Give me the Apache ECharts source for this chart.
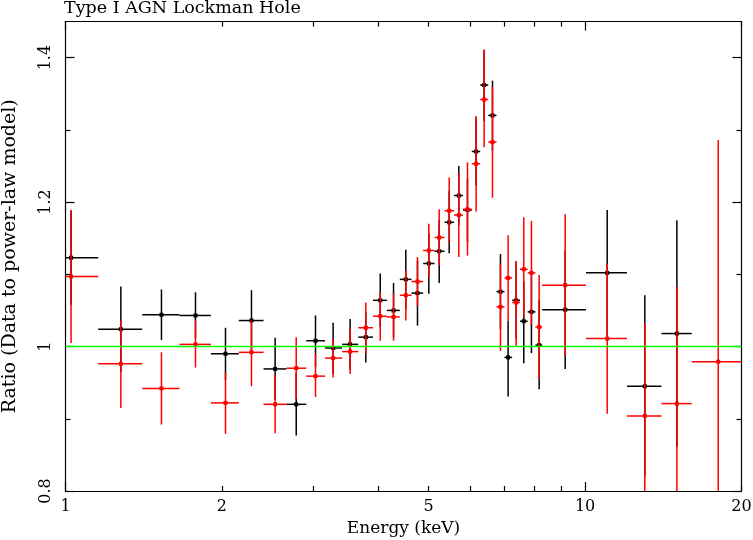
<!DOCTYPE html>
<html><head><meta charset="utf-8">
<script src="https://cdn.jsdelivr.net/npm/echarts@6/dist/echarts.min.js"></script>
<style>html,body{margin:0;padding:0;background:#fff}#c{width:753px;height:540px}</style>
</head><body><div id="c"></div>
<script>
// ---- data (energies in keV) ----
const energyMid = [1.025, 1.278, 1.530, 1.779, 2.032, 2.280, 2.532, 2.780, 3.028, 3.274, 3.530, 3.784, 4.034, 4.279, 4.518, 4.758, 5.003, 5.239, 5.476, 5.714, 5.938, 6.170, 6.394, 6.634, 6.873, 7.110, 7.369, 7.621, 7.884, 8.158, 9.156, 11.03, 13.03, 15.02, 18.04];
const energyLo  = [1.00, 1.156, 1.405, 1.657, 1.905, 2.156, 2.405, 2.663, 2.907, 3.159, 3.408, 3.660, 3.906, 4.154, 4.400, 4.634, 4.880, 5.131, 5.363, 5.595, 5.821, 6.052, 6.282, 6.511, 6.752, 6.996, 7.238, 7.494, 7.753, 8.025, 8.267, 10.04, 12.04, 14.03, 16.04];
const energyHi  = [1.156, 1.405, 1.657, 1.905, 2.156, 2.405, 2.663, 2.907, 3.159, 3.408, 3.660, 3.906, 4.154, 4.400, 4.634, 4.880, 5.131, 5.363, 5.595, 5.821, 6.052, 6.282, 6.511, 6.752, 6.996, 7.238, 7.494, 7.753, 8.025, 8.267, 10.04, 12.04, 14.03, 16.04, 20.0];

const blackRatio = [1.123, 1.024, 1.044, 1.043, 0.990, 1.036, 0.969, 0.920, 1.008, 0.998, 1.003, 1.013, 1.064, 1.050, 1.093, 1.074, 1.115, 1.132, 1.172, 1.209, 1.189, 1.270, 1.362, 1.320, 1.076, 0.985, 1.064, 1.035, 1.048, 1.002, 1.051, 1.102, 0.945, 1.018];
const blackLo    = [1.058, 0.965, 1.009, 1.011, 0.954, 0.994, 0.926, 0.877, 0.972, 0.962, 0.968, 0.978, 1.027, 1.013, 1.052, 1.029, 1.073, 1.088, 1.129, 1.168, 1.145, 1.223, 1.312, 1.271, 1.024, 0.931, 1.010, 0.977, 0.991, 0.941, 0.969, 1.015, 0.820, 0.861];
const blackHi    = [1.188, 1.083, 1.079, 1.075, 1.026, 1.078, 1.012, 0.964, 1.043, 1.033, 1.038, 1.048, 1.101, 1.088, 1.134, 1.119, 1.157, 1.175, 1.215, 1.250, 1.233, 1.317, 1.411, 1.368, 1.128, 1.036, 1.118, 1.090, 1.105, 1.064, 1.133, 1.189, 1.071, 1.175];

const redRatio = [1.097, 0.976, 0.942, 1.003, 0.922, 0.992, 0.920, 0.970, 0.959, 0.984, 0.993, 1.026, 1.042, 1.041, 1.071, 1.090, 1.133, 1.151, 1.188, 1.182, 1.190, 1.253, 1.342, 1.283, 1.055, 1.095, 1.061, 1.107, 1.102, 1.027, 1.085, 1.011, 0.904, 0.921, 0.979];
const redLo    = [1.005, 0.915, 0.892, 0.971, 0.879, 0.945, 0.880, 0.927, 0.930, 0.957, 0.962, 0.990, 1.008, 1.008, 1.036, 1.056, 1.096, 1.112, 1.144, 1.124, 1.126, 1.187, 1.276, 1.206, 0.994, 1.036, 1.001, 1.041, 1.030, 0.955, 0.987, 0.907, 0.750, 0.760, 0.670];
const redHi    = [1.189, 1.036, 0.992, 1.036, 0.964, 1.036, 0.961, 1.013, 0.990, 1.011, 1.025, 1.061, 1.075, 1.074, 1.106, 1.124, 1.170, 1.190, 1.234, 1.240, 1.255, 1.319, 1.411, 1.360, 1.115, 1.154, 1.118, 1.179, 1.174, 1.099, 1.183, 1.115, 1.033, 1.083, 1.286];

const modelRatio = 1.0;
const xMin = 1, xMax = 20;
const yMin = 0.8, yMax = 1.45;
const xLabelValues = [1, 2, 5, 10, 20];
const xMajorTickValues = [1, 10];
const xMinorTickValues = [2, 3, 4, 5, 6, 7, 8, 9, 20];
const yLabelValues = [0.8, 1, 1.2, 1.4];
const yMajorTickValues = [0.8, 1.0, 1.2, 1.4];
const yMinorTickValues = [0.9, 1.1, 1.3];

const titleText = 'Type I AGN Lockman Hole';
const xName = 'Energy (keV)';
const yName = 'Ratio (Data to power-law model)';

// ---- build ----
const L = Math.log10;
const FONT = 'DejaVu Serif';
function rows(ratio, lo, hi) {
  return ratio.map((r, i) => [L(energyMid[i]), r, L(energyLo[i]), L(energyHi[i]), lo[i], hi[i]]);
}
function render(color) {
  return function (params, api) {
    const cs = params.coordSys;
    const top = cs.y, bot = cs.y + cs.height;
    const c = api.coord([api.value(0), api.value(1)]);
    const l = api.coord([api.value(2), api.value(1)]);
    const r = api.coord([api.value(3), api.value(1)]);
    const t = api.coord([api.value(0), api.value(5)]);
    const b = api.coord([api.value(0), api.value(4)]);
    const clampY = v => Math.max(top, Math.min(bot, v));
    const lx = Math.max(cs.x, l[0]), rx = Math.min(cs.x + cs.width, r[0]);
    const st = {stroke: color, lineWidth: 1.5};
    return {type: 'group', children: [
      {type: 'line', shape: {x1: lx, y1: c[1], x2: rx, y2: c[1]}, style: st},
      {type: 'line', shape: {x1: c[0], y1: clampY(t[1]), x2: c[0], y2: clampY(b[1])}, style: st},
      {type: 'rect', shape: {x: c[0] - 2, y: c[1] - 2, width: 4, height: 4}, style: {fill: color}}
    ]};
  };
}
function xAx(pos, ticks, len, labels, line, extra) {
  return Object.assign({
    type: 'value', min: L(xMin), max: L(xMax), position: pos,
    axisLine: {show: line, onZero: false, lineStyle: {color: '#000', width: 1.2}},
    axisTick: {show: true, inside: true, length: len, customValues: ticks.map(L), lineStyle: {color: '#000', width: 1.2}},
    axisLabel: labels ? {show: true, customValues: labels.map(L), formatter: v => String(Math.round(Math.pow(10, v))),
      margin: 8, color: '#000', fontFamily: FONT, fontSize: 16} : {show: false},
    splitLine: {show: false}
  }, extra || {});
}
function yAx(pos, ticks, len, labels, line, extra) {
  return Object.assign({
    type: 'value', min: yMin, max: yMax, position: pos,
    axisLine: {show: line, onZero: false, lineStyle: {color: '#000', width: 1.2}},
    axisTick: {show: true, inside: true, length: len, customValues: ticks, lineStyle: {color: '#000', width: 1.2}},
    axisLabel: labels ? {show: true, customValues: labels, rotate: 90, margin: 12, color: '#000', fontFamily: FONT, fontSize: 16,
      formatter: v => (Math.abs(v - 1) < 1e-9 ? '1' : String(+v.toFixed(1)))} : {show: false},
    splitLine: {show: false}
  }, extra || {});
}

const chart = echarts.init(document.getElementById('c'), null, {renderer: 'canvas'});
chart.setOption({
  animation: false,
  backgroundColor: '#fff',
  title: {text: titleText, left: 64, top: -1, padding: 0,
    textStyle: {fontFamily: FONT, fontSize: 17.5, fontWeight: 'normal', color: '#000'}},
  grid: {left: 65.5, right: 11.5, top: 21.5, bottom: 49, containLabel: false, outerBoundsMode: 'none'},
  xAxis: [
    xAx('bottom', xMajorTickValues, 9, xLabelValues, true, {name: xName, nameLocation: 'middle', nameGap: 29,
      nameTextStyle: {fontFamily: FONT, fontSize: 17, color: '#000'}}),
    xAx('bottom', xMinorTickValues, 5, null, false),
    xAx('top', xMajorTickValues, 9, null, true),
    xAx('top', xMinorTickValues, 5, null, false)
  ],
  yAxis: [
    yAx('left', yMajorTickValues, 9, yLabelValues, true, {name: yName, nameLocation: 'middle', nameGap: 46, nameRotate: 90,
      nameTextStyle: {fontFamily: FONT, fontSize: 19, color: '#000'}}),
    yAx('left', yMinorTickValues, 5, null, false),
    yAx('right', yMajorTickValues, 9, null, true),
    yAx('right', yMinorTickValues, 5, null, false)
  ],
  series: [
    {type: 'custom', name: 'black', xAxisIndex: 0, yAxisIndex: 0, renderItem: render('#000000'),
      data: rows(blackRatio, blackLo, blackHi), encode: {x: 0, y: 1}, z: 2, silent: true},
    {type: 'custom', name: 'red', xAxisIndex: 0, yAxisIndex: 0, renderItem: render('#ff0000'),
      data: rows(redRatio, redLo, redHi), encode: {x: 0, y: 1}, z: 3, silent: true},
    {type: 'line', name: 'model', xAxisIndex: 0, yAxisIndex: 0, data: [[L(xMin), modelRatio], [L(xMax), modelRatio]],
      showSymbol: false, lineStyle: {color: '#00ff00', width: 1.5}, z: 5, silent: true}
  ]
});
</script></body></html>
